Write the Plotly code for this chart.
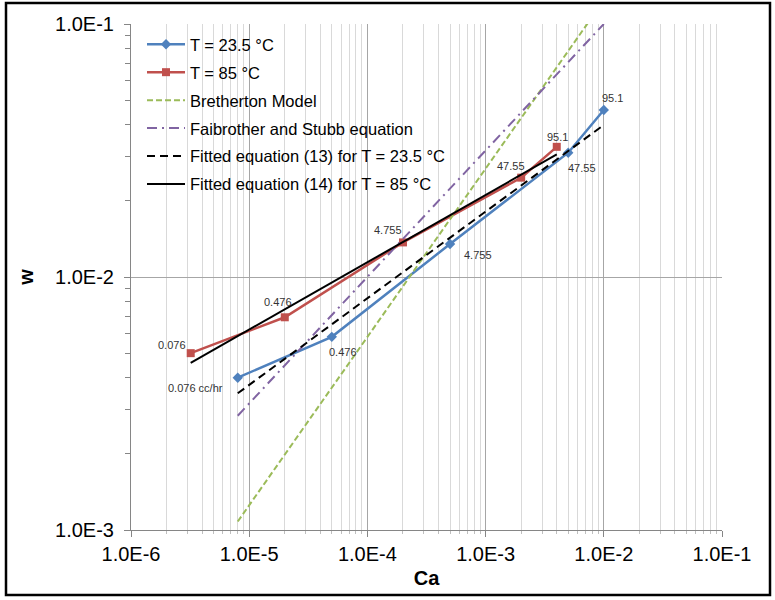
import numpy as np
import plotly.graph_objects as go

# ---------------- data ----------------
ca_235 = [8.0e-6, 5.0e-5, 5.0e-4, 5.0e-3, 1.0e-2]
w_235 = [4.0e-3, 5.8e-3, 1.35e-2, 3.1e-2, 4.57e-2]
labels_235 = ["0.076 cc/hr", "0.476", "4.755", "47.55", "95.1"]

ca_85 = [3.2e-6, 2.0e-5, 2.0e-4, 2.0e-3, 4.0e-3]
w_85 = [5.0e-3, 6.93e-3, 1.37e-2, 2.47e-2, 3.27e-2]
labels_85 = ["0.076", "0.476", "4.755", "47.55", "95.1"]

bretherton_ca = [8.0e-6, 1.0e-2]
bretherton_w = [1.08e-3, 1.24e-1]

fs_ca = [8.0e-6, 1.0e-2]
fs_w = [2.83e-3, 1.0e-1]

fit13_ca = [8.0e-6, 1.0e-2]
fit13_w = [3.47e-3, 3.99e-2]

fit14_ca = [3.2e-6, 4.0e-3]
fit14_w = [4.58e-3, 3.05e-2]

x_tickvals = [1e-6, 1e-5, 1e-4, 1e-3, 1e-2, 1e-1]
x_ticktext = ["1.0E-6", "1.0E-5", "1.0E-4", "1.0E-3", "1.0E-2", "1.0E-1"]
y_tickvals = [1e-3, 1e-2, 1e-1]
y_ticktext = ["1.0E-3", "1.0E-2", "1.0E-1"]

# label offsets (pixels: dx right, dy down)
offs_235 = [(-42, 10), (11, 15), (28, 11), (14, 15), (9, -12)]
offs_85 = [(-19, -8), (-7, -15), (-15, -12), (-10, -12), (1, -10)]

# ---------------- layout constants ----------------
W, H = 775, 600
ML, MR, MT, MB = 131, 53, 24, 70
FONT = "Liberation Sans, Arial, sans-serif"
BLUE = "#4F81BD"
RED = "#C0504D"
GREEN = "#9BBB59"
PURPLE = "#8064A2"


def px_to_paper_x(px):
    return (px - ML) / (W - ML - MR)


def px_to_paper_y(py):
    return (H - MB - py) / (H - MT - MB)


fig = go.Figure()

fig.add_trace(go.Scatter(x=ca_235, y=w_235, mode="lines+markers", name="T = 23.5 °C",
                         legendgroup="g1",
                         line=dict(color=BLUE, width=2.5),
                         marker=dict(symbol="diamond", size=8, color=BLUE)))
fig.add_trace(go.Scatter(x=ca_85, y=w_85, mode="lines+markers", name="T = 85 °C",
                         legendgroup="g2",
                         line=dict(color=RED, width=2.5),
                         marker=dict(symbol="square", size=8, color=RED)))
fig.add_trace(go.Scatter(x=bretherton_ca, y=bretherton_w, mode="lines", name="Bretherton Model",
                         legendgroup="g3",
                         line=dict(color=GREEN, width=2, dash="6px,3px")))
fig.add_trace(go.Scatter(x=fs_ca, y=fs_w, mode="lines", name="Faibrother and Stubb equation",
                         legendgroup="g4",
                         line=dict(color=PURPLE, width=2, dash="10px,5px,2px,5px")))
fig.add_trace(go.Scatter(x=fit13_ca, y=fit13_w, mode="lines",
                         name="Fitted equation (13) for T = 23.5 °C",
                         legendgroup="g5",
                         line=dict(color="black", width=2, dash="8px,5px")))
fig.add_trace(go.Scatter(x=fit14_ca, y=fit14_w, mode="lines",
                         name="Fitted equation (14) for T = 85 °C",
                         legendgroup="g6",
                         line=dict(color="black", width=2)))

annotations = []
for xs, ys, labs, offs in [(ca_235, w_235, labels_235, offs_235),
                           (ca_85, w_85, labels_85, offs_85)]:
    for xv, yv, lab, (dx, dy) in zip(xs, ys, labs, offs):
        annotations.append(dict(x=np.log10(xv), y=np.log10(yv), xref="x", yref="y",
                                text=lab, showarrow=False, xshift=dx, yshift=-dy,
                                font=dict(family=FONT, size=11, color="#333333")))

fig.update_layout(
    width=W, height=H,
    margin=dict(l=ML, r=MR, t=MT, b=MB, pad=0),
    paper_bgcolor="white", plot_bgcolor="white",
    font=dict(family=FONT, color="black"),
    showlegend=True,
    legend=dict(x=px_to_paper_x(142), y=px_to_paper_y(27), xanchor="left", yanchor="top",
                bgcolor="rgba(0,0,0,0)", borderwidth=0,
                font=dict(family=FONT, size=16.5, color="black"),
                itemwidth=38, tracegroupgap=3.5),
    annotations=annotations,
    shapes=[dict(type="rect", xref="paper", yref="paper",
                 x0=px_to_paper_x(6), x1=px_to_paper_x(770),
                 y0=px_to_paper_y(595), y1=px_to_paper_y(3),
                 line=dict(color="black", width=2.5), layer="above")],
)

fig.update_xaxes(type="log", range=[-6, -1],
                 tickmode="array", tickvals=x_tickvals, ticktext=x_ticktext,
                 ticks="outside", ticklen=6, tickcolor="#868686",
                 tickfont=dict(family=FONT, size=20, color="black"),
                 showline=True, linecolor="#868686", linewidth=1,
                 showgrid=True, gridcolor="#a6a6a6", gridwidth=1, zeroline=False,
                 minor=dict(tickmode="linear", dtick="D1", ticks="outside", ticklen=3,
                            tickcolor="#bfbfbf", showgrid=True, gridcolor="#d9d9d9"),
                 title=dict(text="<b>Ca</b>", font=dict(family=FONT, size=20, color="black"),
                            standoff=6))
fig.update_yaxes(type="log", range=[-3, -1],
                 tickmode="array", tickvals=y_tickvals, ticktext=y_ticktext,
                 ticks="outside", ticklen=6, tickcolor="#868686",
                 tickfont=dict(family=FONT, size=20, color="black"),
                 ticklabelstandoff=6,
                 showline=True, linecolor="#868686", linewidth=1,
                 showgrid=True, gridcolor="#a6a6a6", gridwidth=1, zeroline=False,
                 minor=dict(tickmode="linear", dtick="D1", ticks="outside", ticklen=5,
                            tickcolor="#868686", showgrid=False),
                 title=dict(text="<b>w</b>", font=dict(family=FONT, size=20, color="black"),
                            standoff=16))

fig.write_html("out.html")
